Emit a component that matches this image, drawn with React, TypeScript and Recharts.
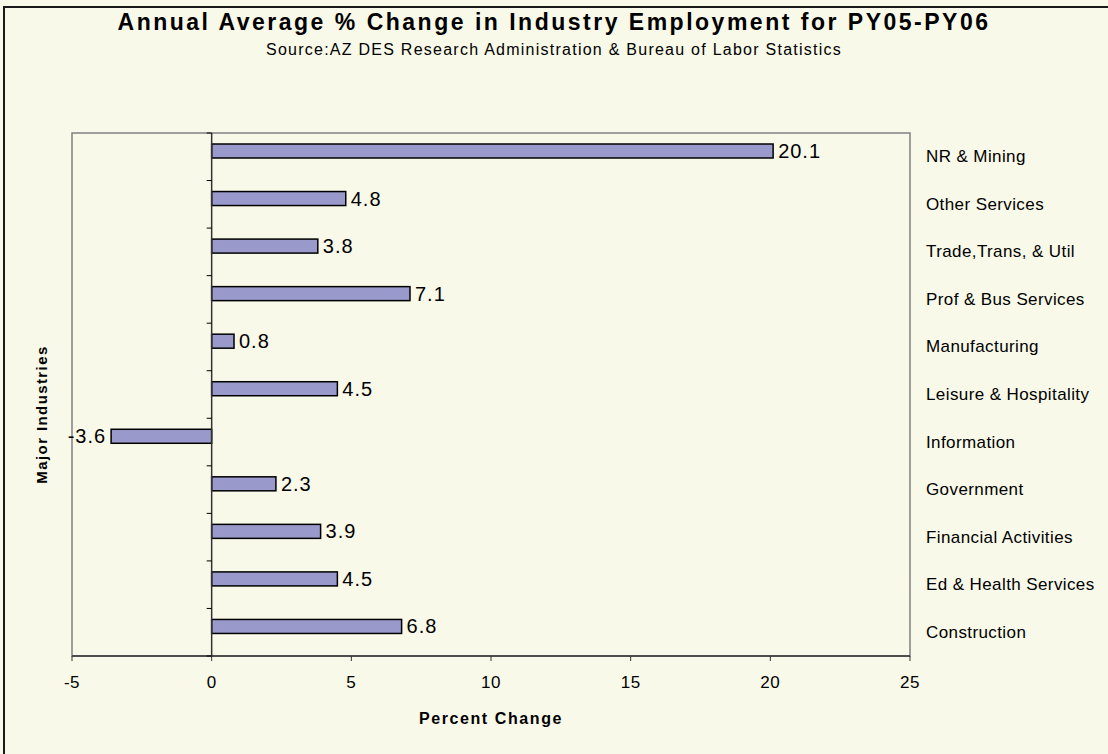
import React from "react";
import {
  BarChart,
  Bar,
  XAxis,
  YAxis,
  ReferenceArea,
  ReferenceLine,
  LabelList,
  Label,
} from "recharts";

const industries = [
  "NR & Mining",
  "Other Services",
  "Trade,Trans, & Util",
  "Prof & Bus Services",
  "Manufacturing",
  "Leisure & Hospitality",
  "Information",
  "Government",
  "Financial Activities",
  "Ed & Health Services",
  "Construction",
];
const pctChange = [20.1, 4.8, 3.8, 7.1, 0.8, 4.5, -3.6, 2.3, 3.9, 4.5, 6.8];
const xTicks = [-5, 0, 5, 10, 15, 20, 25];

const data = industries.map((name, i) => ({ name, value: pctChange[i] }));

const W = 1108;
const H = 754;
const LEFT = 72;
const RIGHT_W = 198;
const TOP = 133;
const BOTTOM = 98;
const PLOT_W = W - LEFT - RIGHT_W;
const PLOT_H = H - TOP - BOTTOM;
const BAND = PLOT_H / industries.length;
const ZERO_X = LEFT + ((0 - xTicks[0]) / (xTicks[xTicks.length - 1] - xTicks[0])) * PLOT_W;
const SHIFT = 6; // bars sit a little above the band centre

const FONT = '"Liberation Sans", Arial, sans-serif';
const BG = "#F9F9E9";

const BarShape = (props: any) => {
  const { x, y, width, height } = props;
  const left = Math.min(x, x + width);
  const w = Math.abs(width);
  return (
    <rect
      x={left}
      y={y - SHIFT}
      width={w}
      height={height}
      fill="#9999CC"
      stroke="#000"
      strokeWidth={1.5}
    />
  );
};

const ValueLabel = (props: any) => {
  const { x, y, width, height, value } = props;
  const left = Math.min(x, x + width);
  const right = Math.max(x, x + width);
  const neg = value < 0;
  return (
    <text
      x={neg ? left - 5 : right + 5}
      y={y + height / 2 - SHIFT}
      dominantBaseline="central"
      textAnchor={neg ? "end" : "start"}
      fontSize={20}
      letterSpacing={1}
      fontFamily={FONT}
      fill="#000"
    >
      {value}
    </text>
  );
};

const CategoryTick = (props: any) => {
  const { x, y, payload, index } = props;
  return (
    <g>
      <text
        x={x + 16}
        y={y}
        dominantBaseline="central"
        fontSize={17}
        letterSpacing={0.4}
        fontFamily={FONT}
        fill="#000"
      >
        {payload.value}
      </text>
      <line x1={ZERO_X - 5} x2={ZERO_X} y1={y - BAND / 2} y2={y - BAND / 2} stroke="#000" />
      {index === industries.length - 1 && (
        <line x1={ZERO_X - 5} x2={ZERO_X} y1={y + BAND / 2} y2={y + BAND / 2} stroke="#000" />
      )}
    </g>
  );
};

const YTitle = (props: any) => {
  const { viewBox } = props;
  const cx = 41;
  const cy = viewBox.y + viewBox.height / 2 + 20;
  return (
    <text
      x={cx}
      y={cy}
      transform={`rotate(-90 ${cx} ${cy})`}
      textAnchor="middle"
      dominantBaseline="central"
      fontSize={15}
      fontWeight="bold"
      letterSpacing={1.4}
      fontFamily={FONT}
      fill="#000"
    >
      Major Industries
    </text>
  );
};

export default function App() {
  return (
    <div
      style={{
        position: "absolute",
        left: 0,
        top: 0,
        width: W,
        height: H,
        background: BG,
        overflow: "hidden",
        fontFamily: FONT,
      }}
    >
      <div
        style={{
          position: "absolute",
          left: 3,
          top: 6,
          width: 1300,
          height: 1000,
          border: "2px solid #1a1a1a",
        }}
      />
      <div
        style={{
          position: "absolute",
          left: 0,
          top: 9,
          width: W,
          textAlign: "center",
          fontSize: 23,
          fontWeight: "bold",
          letterSpacing: 2.5,
          color: "#000",
        }}
      >
        Annual Average % Change in Industry Employment for PY05-PY06
      </div>
      <div
        style={{
          position: "absolute",
          left: 0,
          top: 41,
          width: W,
          textAlign: "center",
          fontSize: 16,
          letterSpacing: 1.25,
          color: "#000",
        }}
      >
        Source:AZ DES Research Administration &amp; Bureau of Labor Statistics
      </div>
      <div style={{ position: "absolute", left: 0, top: 0 }}>
        <BarChart
          width={W}
          height={H}
          data={data}
          layout="vertical"
          margin={{ top: TOP, right: 0, bottom: 38, left: 0 }}
          barSize={14}
        >
          <ReferenceArea
            x1={-5}
            x2={25}
            fill="none"
            stroke="#808080"
            strokeWidth={1.5}
            ifOverflow="visible"
          />
          <XAxis
            type="number"
            domain={[-5, 25]}
            ticks={xTicks}
            height={60}
            axisLine={{ stroke: "#333", strokeWidth: 1.5 }}
            tickLine={{ stroke: "#333" }}
            tickSize={5}
            tickMargin={15}
            tick={{ fontSize: 17, fill: "#000", fontFamily: FONT, letterSpacing: 0.5 }}
          >
            <Label
              value="Percent Change"
              position="bottom"
              offset={-3}
              style={{
                fontSize: 16,
                fontWeight: "bold",
                letterSpacing: 1.6,
                fill: "#000",
                fontFamily: FONT,
              }}
            />
          </XAxis>
          <YAxis
            yAxisId="left"
            orientation="left"
            type="category"
            dataKey="name"
            width={LEFT}
            tick={false}
            axisLine={false}
            tickLine={false}
          >
            <Label content={<YTitle />} />
          </YAxis>
          <YAxis
            type="category"
            dataKey="name"
            orientation="right"
            width={RIGHT_W}
            axisLine={false}
            tickLine={false}
            tickSize={0}
            tickMargin={0}
            interval={0}
            tick={<CategoryTick />}
          />
          <ReferenceLine x={0} stroke="#333" strokeWidth={1.5} />
          <Bar dataKey="value" shape={<BarShape />} isAnimationActive={false}>
            <LabelList dataKey="value" content={<ValueLabel />} />
          </Bar>
        </BarChart>
      </div>
    </div>
  );
}
